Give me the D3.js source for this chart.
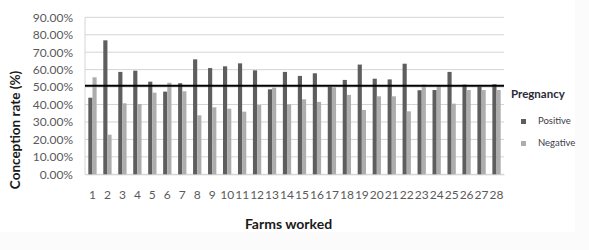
<!DOCTYPE html>
<html>
<head>
<meta charset="utf-8">
<script src="https://cdn.jsdelivr.net/npm/d3@7"></script>
<style>
    body { margin: 0; background: #fbfbfb; }
    svg { display: block; font-family: Lato, "Open Sans", sans-serif; }
</style>
</head>
<body>
<svg id="chart" width="589" height="250"></svg>
<script>
const farms = ['1', '2', '3', '4', '5', '6', '7', '8', '9', '10', '11', '12', '13', '14',
    '15', '16', '17', '18', '19', '20', '21', '22', '23', '24', '25', '26', '27', '28'];
const positive = [43.9, 76.8, 58.7, 59.4, 53.1, 47.4, 52.2, 65.9, 60.9, 61.9, 63.6, 59.6, 48.7, 58.7,
    56.4, 57.9, 50.2, 54.1, 62.9, 54.8, 54.4, 63.4, 48.2, 48.3, 58.7, 51.4, 50.2, 51.6];
const negative = [55.6, 22.7, 40.7, 40.3, 46.8, 52.5, 47.6, 33.8, 38.4, 37.6, 35.9, 39.7, 49.7, 40.1,
    43.0, 41.5, 49.9, 45.5, 36.9, 44.7, 44.7, 36.1, 51.4, 50.8, 40.5, 48.3, 48.3, 48.3];
const yTicks = [0, 10, 20, 30, 40, 50, 60, 70, 80, 90];
const threshold = 50.7;
const seriesNames = ['Positive', 'Negative'];

const colors = { Positive: '#5e5e5e', Negative: '#adadad' };

const svg = d3.select('#chart');

// white chart area, the scan has a very faint grey edge outside it
svg.append('rect')
    .attr('width', 575)
    .attr('height', 232)
    .attr('fill', '#fff');

const plotLeft = 85;
const plotRight = 504;
const plotTop = 17.3;
const plotBottom = 174.3;

const x = d3.scaleBand()
    .domain(farms)
    .range([plotLeft, plotRight]);

const xSub = d3.scaleBand()
    .domain(seriesNames)
    .range([0, x.bandwidth()])
    .paddingOuter(0.8);

const y = d3.scaleLinear()
    .domain([0, 90])
    .range([plotBottom, plotTop]);

// gridlines
svg.append('g')
    .selectAll('line')
    .data(yTicks)
    .enter()
    .append('line')
    .attr('x1', plotLeft)
    .attr('x2', plotRight)
    .attr('y1', (d) => y(d))
    .attr('y2', (d) => y(d))
    .attr('stroke', '#d4d4d4')
    .attr('stroke-width', 1);

// left axis line
svg.append('line')
    .attr('x1', plotLeft)
    .attr('x2', plotLeft)
    .attr('y1', plotTop)
    .attr('y2', plotBottom)
    .attr('stroke', '#d4d4d4');

const yAxis = svg.append('g')
    .attr('transform', `translate(${plotLeft},0)`)
    .call(d3.axisLeft(y)
        .tickValues(yTicks)
        .tickSize(0)
        .tickPadding(12)
        .tickFormat((d) => d3.format('.2%')(d / 100)));
yAxis.select('.domain').remove();
yAxis.selectAll('text')
    .attr('font-size', '12px')
    .attr('font-family', 'Lato, sans-serif')
    .attr('fill', '#5a5a5a');

const xAxis = svg.append('g')
    .attr('transform', `translate(0,${plotBottom})`)
    .call(d3.axisBottom(x).tickSize(0).tickPadding(16));
xAxis.select('.domain').attr('stroke', '#d4d4d4');
xAxis.selectAll('text')
    .attr('font-size', '12px')
    .attr('font-family', 'Lato, sans-serif')
    .attr('fill', '#5a5a5a');

// bars, grouped per farm
const rows = farms.map((f, i) => ({
    farm: f,
    values: [
        { key: 'Positive', value: positive[i] },
        { key: 'Negative', value: negative[i] }
    ]
}));

const group = svg.append('g')
    .selectAll('g')
    .data(rows)
    .enter()
    .append('g')
    .attr('transform', (d) => `translate(${x(d.farm)},0)`);

group.selectAll('rect')
    .data((d) => d.values)
    .enter()
    .append('rect')
    .attr('x', (d) => xSub(d.key))
    .attr('width', xSub.bandwidth())
    .attr('y', (d) => y(d.value))
    .attr('height', (d) => plotBottom - y(d.value))
    .attr('fill', (d) => colors[d.key]);

// reference line
svg.append('line')
    .attr('x1', plotLeft)
    .attr('x2', plotRight)
    .attr('y1', y(threshold))
    .attr('y2', y(threshold))
    .attr('stroke', '#000')
    .attr('stroke-width', 2);

// axis titles
svg.append('text')
    .attr('transform', 'translate(20,130) rotate(-90)')
    .attr('text-anchor', 'middle')
    .attr('font-size', '13.5px')
    .attr('font-weight', 'bold')
    .attr('fill', '#1a1a1a')
    .text('Conception rate (%)');

svg.append('text')
    .attr('x', 288.5)
    .attr('y', 229)
    .attr('text-anchor', 'middle')
    .attr('font-size', '14px')
    .attr('font-weight', 'bold')
    .attr('fill', '#1a1a1a')
    .text('Farms worked');

// legend
const legend = svg.append('g');
legend.append('text')
    .attr('x', 511)
    .attr('y', 98)
    .attr('font-size', '11.5px')
    .attr('font-weight', 'bold')
    .attr('fill', '#2a2a35')
    .text('Pregnancy');

const item = legend.selectAll('.item')
    .data(seriesNames)
    .enter()
    .append('g')
    .attr('class', 'item')
    .attr('transform', (d, i) => `translate(521,${119 + i * 22})`);

item.append('rect')
    .attr('width', 5)
    .attr('height', 5)
    .attr('fill', (d) => colors[d]);

item.append('text')
    .attr('x', 17)
    .attr('y', 5)
    .attr('font-size', '9.5px')
    .attr('fill', '#3a3a4a')
    .text((d) => d);
</script>
</body>
</html>
